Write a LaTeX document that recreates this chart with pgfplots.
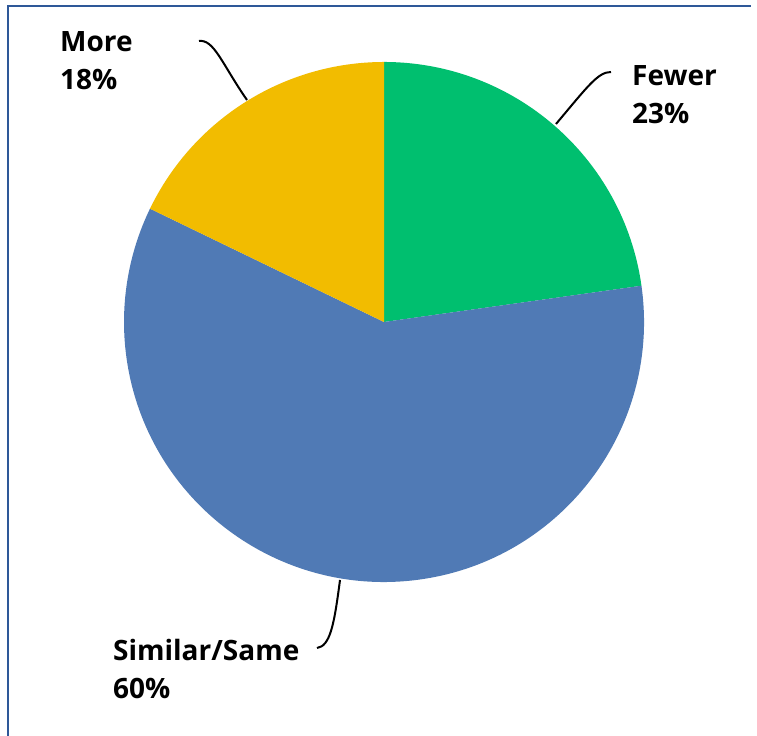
\documentclass[border=0pt]{standalone}
\usepackage{pgfplots}
\pgfplotsset{compat=1.18}
\usepackage{pgfplotstable}
\usetikzlibrary{calc}
\usepackage{fontspec}
\setmainfont{Open Sans}
\definecolor{cgreen}{RGB}{0,191,111}
\definecolor{cblue}{RGB}{80,122,181}
\definecolor{cyellow}{RGB}{242,188,0}
\definecolor{cframe}{RGB}{46,88,152}
\pgfplotstableread{
label value
Fewer 23
Similar 60
More 18
}\piedata
\begin{document}
\begin{tikzpicture}[x=1bp,y=1bp]
\useasboundingbox (0,0) rectangle (757,736);
\fill[white] (0,0) rectangle (757,736);
\pgfplotstablegetelem{0}{value}\of\piedata \let\vA\pgfplotsretval
\pgfplotstablegetelem{1}{value}\of\piedata \let\vB\pgfplotsretval
\pgfplotstablegetelem{2}{value}\of\piedata \let\vC\pgfplotsretval
\pgfmathsetmacro\tot{\vA+\vB+\vC}
\pgfmathsetmacro\aA{90-(\vA/\tot)*360}
\pgfmathsetmacro\aB{\aA-(\vB/\tot)*360}
\begin{axis}[scale only axis, width=520bp, height=520bp,
  xmin=-1, xmax=1, ymin=-1, ymax=1, hide axis,
  at={(124bp,154bp)}, anchor=south west, clip=false]
\fill[cgreen] (axis cs:0,0) -- (axis cs:0,1) arc[start angle=90, end angle=\aA, radius=260bp] -- cycle;
\fill[cblue] (axis cs:0,0) -- ($(axis cs:0,0)+(\aA:260bp)$) arc[start angle=\aA, end angle=\aB, radius=260bp] -- cycle;
\fill[cyellow] (axis cs:0,0) -- ($(axis cs:0,0)+(\aB:260bp)$) arc[start angle=\aB, end angle=-270, radius=260bp] -- cycle;
\end{axis}
% frame
\draw[cframe, line width=2.3bp] (7.8,0) -- (7.8,730.2) -- (751,730.2);
% leader lines
\draw[black, line width=2bp] (199,695) .. controls (214,697) and (222,672) .. (247,636);
\draw[black, line width=2bp] (611,664) .. controls (598,664) and (588,650) .. (556,612);
\draw[black, line width=2bp] (317,88) .. controls (330,90) and (334,110) .. (340,156);
% labels
\begin{scope}[every node/.style={inner sep=0pt, anchor=base west, font=\fontsize{28bp}{38bp}\selectfont\bfseries}]
\node at (60,684) {More};
\node at (60,646) {\vC\%};
\node at (632,650) {Fewer};
\node at (632,612) {\vA\%};
\node at (113,75) {Similar/Same};
\node at (113,37) {\vB\%};
\end{scope}
\end{tikzpicture}
\end{document}
